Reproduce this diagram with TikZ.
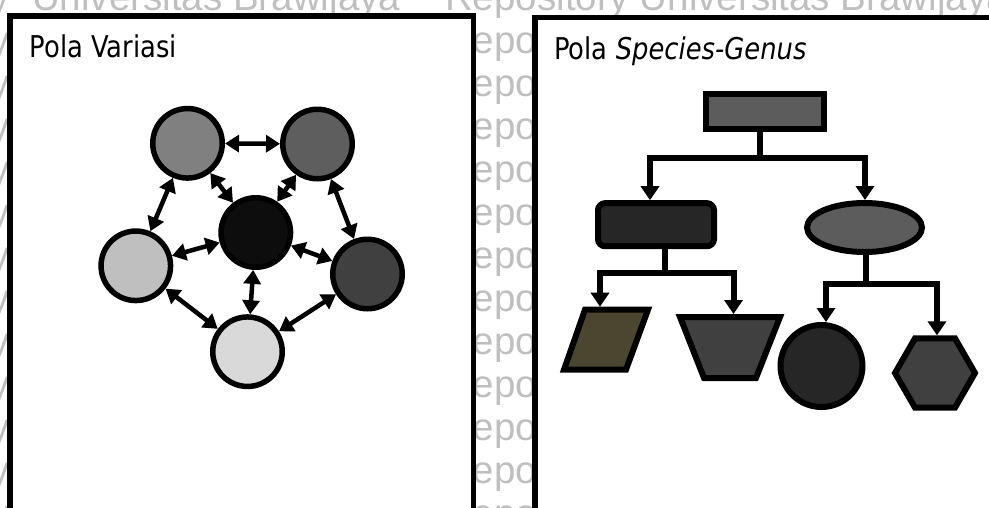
\documentclass[tikz,border=0pt]{standalone}
\usepackage{fontspec}
\usetikzlibrary{arrows.meta,shapes.geometric}
\newfontfamily\wmfont{Liberation Sans}
\newfontfamily\titlefont[FakeStretch=0.86]{DejaVu Sans}
\definecolor{wmgray}{gray}{0.75}
\definecolor{cTL}{HTML}{808080}
\definecolor{cTR}{HTML}{5E5E5E}
\definecolor{cC}{HTML}{0D0D0D}
\definecolor{cL}{HTML}{BFBFBF}
\definecolor{cR}{HTML}{404040}
\definecolor{cB}{HTML}{D9D9D9}
\definecolor{gRoot}{HTML}{5C5C5C}
\definecolor{gDark}{HTML}{262626}
\definecolor{gOlive}{HTML}{4B4630}
\definecolor{gMid}{HTML}{404040}
\begin{document}
\begin{tikzpicture}[x=1pt,y=-1pt,
  wm/.style={text=wmgray, font=\wmfont\fontsize{38.5}{40}\selectfont, inner sep=0pt, anchor=base west},
  panel/.style={draw=black, fill=white, line width=5.5pt},
  title/.style={font=\titlefont\fontsize{30}{32}\selectfont, inner sep=0pt, anchor=base west},
  cnode/.style={circle, draw=black, line width=5.5pt, minimum size=69.5pt, inner sep=0pt},
  biarrow/.style={line width=4.5pt, {Triangle[length=14pt,width=17pt]}-{Triangle[length=14pt,width=17pt]}},
  tnode/.style={draw=black, line width=6pt, inner sep=0pt},
  tshape/.style={draw=black, line width=6pt},
  tline/.style={line width=6pt, line cap=rect},
  tarrow/.style={tline, -{Triangle[length=14pt,width=18pt]}},
]
\useasboundingbox (0,0) rectangle (989,507);
\clip (0,0) rectangle (989,507);

% repository watermark rows
\foreach \b in {10,53,...,526} {
  \node[wm, anchor=base east, name=wma\b] at (10,\b) {Repository};
  \node[wm, name=wmb\b] at (32,\b) {Universitas Brawijaya};
  \node[wm, name=wmc\b] at (445,\b) {Repository Universitas Brawijaya};
}

% the two panels
\draw[panel] (9.8,15.8) rectangle (473.3,530);
\draw[panel] (535,17.5) rectangle (1000,530);

\node[title] (t1) at (29.5,57) {Pola Variasi};
\node[title] (t2) at (554,59.5) {Pola \textit{Species-Genus}};

% variation pattern
\node[cnode, fill=cTL] (tl) at (187.5,143.3) {};
\node[cnode, fill=cTR] (tr) at (317.5,144) {};
\node[cnode, fill=cC]  (c)  at (255.8,232.5) {};
\node[cnode, fill=cL]  (l)  at (135.8,265.8) {};
\node[cnode, fill=cR]  (r)  at (367.5,274) {};
\node[cnode, fill=cB]  (b)  at (247.5,351.7) {};

\draw[biarrow] (tl) -- (tr);
\draw[biarrow] (tl) -- (c);
\draw[biarrow] (tr) -- (c);
\draw[biarrow] (tl) -- (l);
\draw[biarrow] (tr) -- (r);
\draw[biarrow] (l) -- (c);
\draw[biarrow] (c) -- (r);
\draw[biarrow] (c) -- (b);
\draw[biarrow] (l) -- (b);
\draw[biarrow] (r) -- (b);

% species-genus pattern
\node[tnode, rectangle, fill=gRoot, minimum width=118pt, minimum height=35.3pt] (root) at (765.3,111.7) {};
\node[tnode, rectangle, rounded corners=7pt, fill=gDark, minimum width=116pt, minimum height=43pt] (rr) at (656,224.7) {};
\node[tnode, ellipse, fill=gRoot, minimum width=115pt, minimum height=49pt] (el) at (864.5,227.5) {};
% parallelogram and inverted trapezoid, with their top mid points
\filldraw[tshape, fill=gOlive] (564,369.7) -- (585,309.7) -- (648,309.7) -- (626,369.7) -- cycle;
\coordinate (paratop) at (616.5,306.7);
\filldraw[tshape, fill=gMid] (680,317) -- (780,317) -- (756,378) -- (704,378) -- cycle;
\coordinate (traptop) at (730,314);
\node[tnode, circle, fill=gDark, minimum size=82pt] (cir) at (821.5,366) {};
\node[tnode, regular polygon, regular polygon sides=6, fill=gMid, minimum size=80pt] (hex) at (935,373) {};

\coordinate (j1) at (760,158);
\coordinate (d1) at (650,158);
\coordinate (d2) at (865,158);
\draw[tline] (root.south -| j1) -- (j1);
\draw[tarrow] (j1) -| (rr.north -| d1);
\draw[tarrow] (j1) -| (el.north -| d2);

\coordinate (j2) at (665,272.5);
\coordinate (d3) at (600,272.5);
\coordinate (d4) at (733.5,272.5);
\draw[tline] (rr.south -| j2) -- (j2);
\draw[tarrow] (j2) -| (paratop -| d3);
\draw[tarrow] (j2) -| (traptop -| d4);

\coordinate (j3) at (865.5,283.7);
\coordinate (d5) at (826,283.7);
\coordinate (d6) at (937,283.7);
\draw[tline] (el.south -| j3) -- (j3);
\draw[tarrow] (j3) -| (cir.north -| d5);
\draw[tarrow] (j3) -| (hex.north -| d6);
\end{tikzpicture}
\end{document}
